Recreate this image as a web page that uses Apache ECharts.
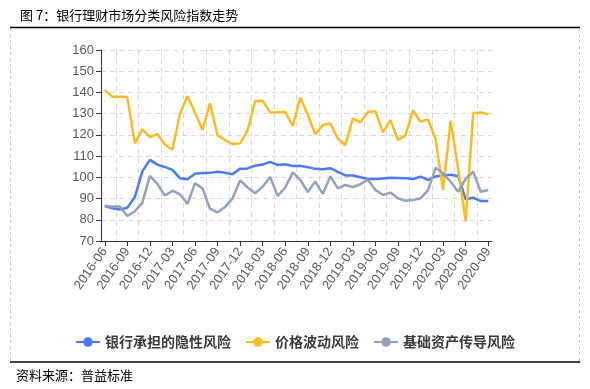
<!DOCTYPE html>
<html>
<head>
<meta charset="utf-8">
<script src="https://cdn.jsdelivr.net/npm/echarts@6/dist/echarts.min.js"></script>
<style>
html,body{margin:0;padding:0;background:#fff;}
#chart{width:590px;height:389px;}
</style>
</head>
<body>
<div id="chart"></div>
<script>
var categories = ["2016-06","2016-07","2016-08","2016-09","2016-10","2016-11","2016-12","2017-01","2017-02","2017-03","2017-04","2017-05","2017-06","2017-07","2017-08","2017-09","2017-10","2017-11","2017-12","2018-01","2018-02","2018-03","2018-04","2018-05","2018-06","2018-07","2018-08","2018-09","2018-10","2018-11","2018-12","2019-01","2019-02","2019-03","2019-04","2019-05","2019-06","2019-07","2019-08","2019-09","2019-10","2019-11","2019-12","2020-01","2020-02","2020-03","2020-04","2020-05","2020-06","2020-07","2020-08","2020-09"];

var seriesNames = ["银行承担的隐性风险", "价格波动风险", "基础资产传导风险"];

var implicitRisk = [86.5,85.4,84.8,85.7,90.7,102.8,108.2,106,104.9,103.5,99.6,99.1,101.7,102,102.1,102.6,102.2,101.5,104.1,104.2,105.5,106,107.3,105.8,106.2,105.3,105.4,104.8,104,103.8,104.3,102.6,100.9,100.9,100,99.2,99.2,99.5,99.8,99.7,99.6,99.2,100.3,98.8,100.4,101,101.2,100.6,89.7,90.4,88.8,88.8];

var priceRisk = [141.2,138,138,137.8,116,122.6,119,120.4,115.5,113,130,138.2,130.6,122.3,134.9,119.8,117.6,115.6,116,122,136,136.1,130.6,130.7,130.9,124.2,137.5,129.5,120.3,124.6,125.5,118.2,115.2,127.8,125.9,130.8,131.2,121.2,127,117.6,119.8,131.7,126.2,127.3,117.9,94,126.7,104,79.2,130.2,130.6,129.7];

var assetRisk = [86.6,86.2,86.2,81.8,84,88,100.7,96.9,91.3,93.7,92,87.5,97.2,94.8,85.2,83.5,86,90.1,98.6,95.2,92.5,95.6,100.2,91.2,95.2,102.3,98.8,93.1,98,92.2,100.5,94.8,96.4,95.4,96.8,98.9,94,91.7,92.8,90.1,89,89.3,90.1,94,104.5,101.9,97.9,93.2,99.3,102.7,93.2,94];

var yTicks = {min: 70, max: 160, interval: 10};

var colors = ['#4a7cf0', '#fbbc22', '#94a0bf'];

var chart = echarts.init(document.getElementById('chart'), null, {renderer: 'canvas'});

var cjk = '"Noto Sans CJK SC", "Noto Sans", sans-serif';
var num = '"Liberation Sans", Arial, sans-serif';

function mkSeries(name, data, color) {
  return {
    name: name,
    type: 'line',
    data: data,
    symbol: 'circle',
    symbolSize: 9,
    showSymbol: false,
    lineStyle: {width: 2.5, color: color},
    itemStyle: {color: color},
    emphasis: {disabled: true}
  };
}

chart.setOption({
  animation: false,
  backgroundColor: '#fff',
  color: colors,
  title: {
    text: '图 7：银行理财市场分类风险指数走势',
    left: 15,
    top: 4,
    textStyle: {fontFamily: cjk, fontSize: 13, fontWeight: 'normal', color: '#000'}
  },
  graphic: [
    {type: 'line', shape: {x1: 10, y1: 27.5, x2: 580, y2: 27.5}, style: {stroke: '#000', lineWidth: 1.5}},
    {type: 'line', shape: {x1: 10, y1: 362, x2: 580, y2: 362}, style: {stroke: '#000', lineWidth: 1.5}},
    {type: 'line', shape: {x1: 10.5, y1: 28, x2: 10.5, y2: 361}, style: {stroke: '#c8c8c8', lineWidth: 1, lineDash: [3, 3]}},
    {type: 'line', shape: {x1: 579.5, y1: 28, x2: 579.5, y2: 361}, style: {stroke: '#c8c8c8', lineWidth: 1, lineDash: [3, 3]}},
    {type: 'text', left: 16, top: 369, style: {text: '资料来源：普益标准', fontFamily: cjk, fontSize: 13, fill: '#000'}}
  ],
  legend: {
    data: seriesNames,
    left: 'center',
    top: 330,
    itemWidth: 24,
    itemHeight: 12,
    itemGap: 14,
    textStyle: {fontFamily: cjk, fontSize: 14, fontWeight: 'bold', color: '#3a3a3a'}
  },
  grid: {left: 101, right: 98, top: 50, bottom: 148, containLabel: false},
  xAxis: {
    type: 'category',
    data: categories,
    boundaryGap: true,
    axisLine: {lineStyle: {color: '#333', width: 1}},
    axisTick: {show: true, alignWithLabel: true, interval: 2, length: 5, lineStyle: {color: '#333'}},
    axisLabel: {interval: 2, rotate: 55, fontFamily: num, fontSize: 13, color: '#595959', margin: 8},
    splitLine: {
      show: true,
      interval: function (index) { return index % 3 === 2; },
      showMaxLine: false,
      lineStyle: {color: '#d9d9d9', type: [5, 4], width: 1}
    }
  },
  yAxis: {
    type: 'value',
    min: yTicks.min,
    max: yTicks.max,
    interval: yTicks.interval,
    axisLine: {show: true, lineStyle: {color: '#333', width: 1}},
    axisTick: {show: true, length: 5, lineStyle: {color: '#333'}},
    axisLabel: {fontFamily: num, fontSize: 13, color: '#595959', margin: 7},
    splitLine: {show: true, lineStyle: {color: '#d9d9d9', type: [5, 4], width: 1}}
  },
  series: [
    mkSeries(seriesNames[0], implicitRisk, colors[0]),
    mkSeries(seriesNames[1], priceRisk, colors[1]),
    mkSeries(seriesNames[2], assetRisk, colors[2])
  ]
});
</script>
</body>
</html>
